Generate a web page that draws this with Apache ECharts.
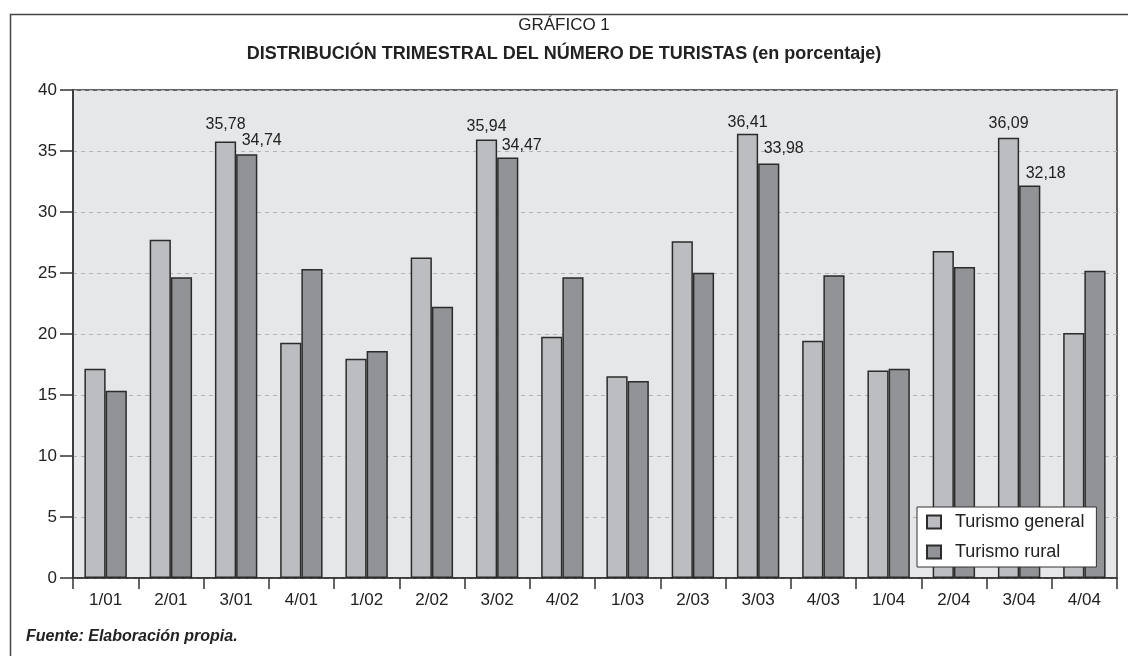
<!DOCTYPE html>
<html>
<head>
<meta charset="utf-8">
<script src="https://cdn.jsdelivr.net/npm/echarts@6/dist/echarts.min.js"></script>
<style>
html,body{margin:0;padding:0;background:#fff;}
#chart{width:1128px;height:656px;}
</style>
</head>
<body>
<div id="chart"></div>
<script>
const categories = ['1/01','2/01','3/01','4/01','1/02','2/02','3/02','4/02','1/03','2/03','3/03','4/03','1/04','2/04','3/04','4/04'];
const turismoGeneral = [17.16, 27.73, 35.78, 19.29, 17.98, 26.28, 35.94, 19.78, 16.53, 27.60, 36.41, 19.45, 17.00, 26.80, 36.09, 20.08];
const turismoRural   = [15.35, 24.65, 34.74, 25.33, 18.61, 22.24, 34.47, 24.65, 16.15, 25.03, 33.98, 24.81, 17.16, 25.49, 32.18, 25.19];
const labelledIndices = [2, 6, 10, 14];
const yTicks = {min: 0, max: 40, interval: 5};

const FONT = '"Liberation Sans", Arial, Helvetica, sans-serif';
const fmt = v => v.toFixed(2).replace('.', ',');

// label placement tweaks (style only)
const generalLabelOffsets = {2: [0, -5], 6: [0, -1], 10: [0, 1], 14: [0, -2]};
const ruralLabelOffsets = {2: [15, -2], 6: [14, 0], 10: [15, -3], 14: [16, 0]};

function buildData(values, offsets) {
  return values.map((v, i) => {
    if (labelledIndices.indexOf(i) >= 0) {
      return {value: v, label: {show: true, position: 'top', distance: 4, offset: offsets[i],
        formatter: p => fmt(p.value), fontFamily: FONT, fontSize: 16, color: '#222'}};
    }
    return v;
  });
}

const chart = echarts.init(document.getElementById('chart'), null, {renderer: 'canvas'});
chart.setOption({
  animation: false,
  backgroundColor: '#ffffff',
  textStyle: {fontFamily: FONT},
  title: [
    {text: 'GRÁFICO 1', left: 'center', top: 12,
     textStyle: {fontFamily: FONT, fontSize: 17, fontWeight: 'normal', color: '#222'}},
    {text: 'DISTRIBUCIÓN TRIMESTRAL DEL NÚMERO DE TURISTAS (en porcentaje)', left: 'center', top: 40,
     textStyle: {fontFamily: FONT, fontSize: 18, fontWeight: 'bold', color: '#222'}}
  ],
  graphic: [
    {type: 'rect', left: 8, top: 12, shape: {x: 0, y: 0, width: 1130, height: 660},
     style: {fill: 'none', stroke: '#444', lineWidth: 1.5}, silent: true},
    {type: 'text', left: 26, top: 629,
     style: {text: 'Fuente: Elaboración propia.', fontFamily: FONT, fontSize: 16,
             fontWeight: 'bold', fontStyle: 'italic', fill: '#222'}}
  ],
  grid: {left: 73, right: 11, top: 90, bottom: 78, show: true,
         backgroundColor: '#e6e7e9', borderColor: '#333', borderWidth: 1.5, containLabel: false},
  legend: {
    orient: 'vertical', left: 917, top: 507,
    backgroundColor: '#ffffff', borderColor: '#333', borderWidth: 1,
    padding: [6, 12, 6, 9], itemGap: 12, itemWidth: 14, itemHeight: 13,
    icon: 'rect',
    textStyle: {fontFamily: FONT, fontSize: 18, color: '#222', padding: [0, 0, 0, 9]},
    data: ['Turismo general', 'Turismo rural']
  },
  xAxis: {
    type: 'category', data: categories, boundaryGap: true,
    axisLine: {lineStyle: {color: '#333', width: 1.5}},
    axisTick: {show: true, length: 11, interval: 0, lineStyle: {color: '#333', width: 1.5}},
    axisLabel: {interval: 0, margin: 14, fontFamily: FONT, fontSize: 17, color: '#222'},
    splitLine: {show: false}
  },
  yAxis: {
    type: 'value', min: yTicks.min, max: yTicks.max, interval: yTicks.interval,
    axisLine: {show: true, lineStyle: {color: '#333', width: 1.5}},
    axisTick: {show: true, length: 13, lineStyle: {color: '#333', width: 1.5}},
    axisLabel: {margin: 16, fontFamily: FONT, fontSize: 17, color: '#222'},
    splitLine: {show: true, lineStyle: {color: '#b3b4b6', type: [4, 4], width: 1}}
  },
  series: [
    {name: 'Turismo general', type: 'bar', data: buildData(turismoGeneral, generalLabelOffsets),
     barGap: '0%', barCategoryGap: '35%',
     itemStyle: {color: '#bcbdc0', borderColor: '#2b2b2b', borderWidth: 1.5}},
    {name: 'Turismo rural', type: 'bar', data: buildData(turismoRural, ruralLabelOffsets),
     barGap: '0%', barCategoryGap: '35%',
     itemStyle: {color: '#929396', borderColor: '#2b2b2b', borderWidth: 1.5}}
  ]
});
</script>
</body>
</html>
